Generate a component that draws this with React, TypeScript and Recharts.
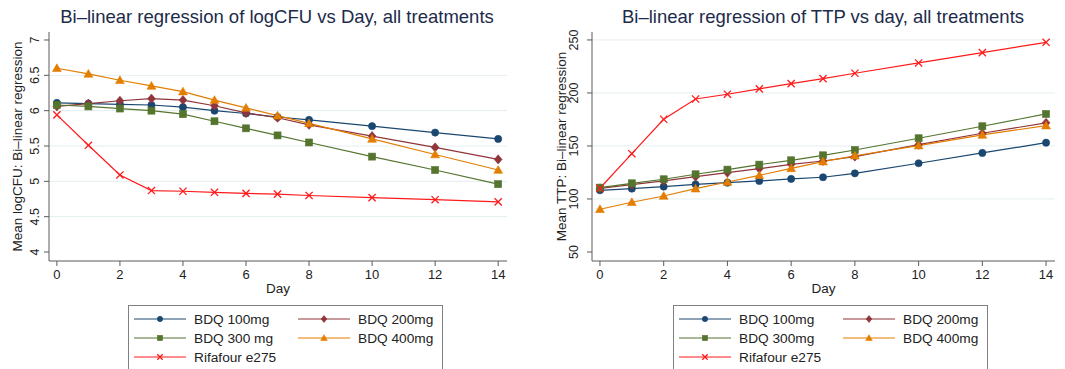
import React from 'react';
import { LineChart, Line, XAxis, YAxis, CartesianGrid } from 'recharts';

const FONT = '"Liberation Sans", Arial, Helvetica, sans-serif';

const DAYS = [0, 1, 2, 3, 4, 5, 6, 7, 8, 10, 12, 14];
const DAY_TICKS = [0, 2, 4, 6, 8, 10, 12, 14];

// logCFU panel
const CFU_100 = [6.11, 6.1, 6.09, 6.08, 6.05, 6.0, 5.96, 5.91, 5.87, 5.78, 5.69, 5.6];
const CFU_200 = [6.06, 6.1, 6.14, 6.17, 6.15, 6.07, 5.97, 5.9, 5.8, 5.64, 5.48, 5.31];
const CFU_300 = [6.08, 6.06, 6.03, 6.0, 5.95, 5.85, 5.75, 5.65, 5.55, 5.35, 5.16, 4.96];
const CFU_400 = [6.6, 6.52, 6.43, 6.35, 6.27, 6.15, 6.04, 5.93, 5.82, 5.6, 5.38, 5.16];
const CFU_RIF = [5.94, 5.51, 5.09, 4.87, 4.86, 4.845, 4.83, 4.82, 4.8, 4.77, 4.74, 4.71];
const CFU_TICKS = [4, 4.5, 5, 5.5, 6, 6.5, 7];
const CFU_GRID = [4.5, 5, 5.5, 6, 6.5];

// TTP panel
const TTP_100 = [108.2, 109.7, 111.6, 113.8, 115.4, 117, 118.9, 120.5, 124.2, 133.7, 143.4, 153.1];
const TTP_200 = [110, 113.5, 117, 121, 124.8, 128.6, 132.7, 135.8, 140, 151.2, 162, 171.8];
const TTP_300 = [110.7, 114.8, 118.6, 123.3, 127.7, 132.4, 136.5, 141.2, 146.2, 157.3, 168.6, 180.2];
const TTP_400 = [90.3, 96.9, 102.8, 109.7, 116, 122.3, 128.9, 135.2, 140.8, 150.3, 160.4, 169.2];
const TTP_RIF = [110.1, 142.7, 175.2, 194.3, 198.8, 203.8, 208.8, 213.5, 218.6, 228.3, 238, 247.8];
const TTP_TICKS = [50, 100, 150, 200, 250];
const TTP_GRID = [100, 150, 200, 250];

const SERIES = [
  { key: 'b100', color: '#1a476f', shape: 'circle' },
  { key: 'b200', color: '#90353b', shape: 'diamond' },
  { key: 'b300', color: '#55752f', shape: 'square' },
  { key: 'b400', color: '#e37e00', shape: 'triangle' },
  { key: 'rif', color: '#ff1a1a', shape: 'x' },
];

const CFU_LABELS = ['BDQ 100mg', 'BDQ 200mg', 'BDQ 300 mg', 'BDQ 400mg', 'Rifafour e275'];
const TTP_LABELS = ['BDQ 100mg', 'BDQ 200mg', 'BDQ 300mg', 'BDQ 400mg', 'Rifafour e275'];

const buildRows = (cols: number[][]) =>
  DAYS.map((day, i) => ({
    day,
    b100: cols[0][i],
    b200: cols[1][i],
    b300: cols[2][i],
    b400: cols[3][i],
    rif: cols[4][i],
  }));

const cfuData = buildRows([CFU_100, CFU_200, CFU_300, CFU_400, CFU_RIF]);
const ttpData = buildRows([TTP_100, TTP_200, TTP_300, TTP_400, TTP_RIF]);

const Marker = ({ cx, cy, shape, color, s = 1 }: any) => {
  if (cx == null || cy == null) return null;
  switch (shape) {
    case 'circle':
      return <circle cx={cx} cy={cy} r={3.6 * s} fill={color} stroke={color} strokeWidth={0.6} />;
    case 'diamond': {
      const d = 4.6 * s;
      return (
        <polygon
          points={`${cx},${cy - d} ${cx + d * 0.85},${cy} ${cx},${cy + d} ${cx - d * 0.85},${cy}`}
          fill={color}
          stroke={color}
          strokeWidth={0.6}
        />
      );
    }
    case 'square': {
      const h = 3.5 * s;
      return <rect x={cx - h} y={cy - h} width={h * 2} height={h * 2} fill={color} stroke={color} strokeWidth={0.6} />;
    }
    case 'triangle': {
      const t = 4.4 * s;
      return (
        <polygon
          points={`${cx},${cy - t} ${cx + t},${cy + t * 0.75} ${cx - t},${cy + t * 0.75}`}
          fill={color}
          stroke={color}
          strokeWidth={0.6}
        />
      );
    }
    default: {
      const h = 3.6 * s;
      return (
        <g stroke={color} strokeWidth={1.3}>
          <line x1={cx - h} y1={cy - h} x2={cx + h} y2={cy + h} />
          <line x1={cx - h} y1={cy + h} x2={cx + h} y2={cy - h} />
        </g>
      );
    }
  }
};

const YTick = ({ x, y, payload }: any) => (
  <text
    x={x}
    y={y}
    transform={`rotate(-90, ${x}, ${y})`}
    textAnchor="middle"
    fontSize={12.5}
    fontFamily={FONT}
    fill="#222"
  >
    {payload.value}
  </text>
);

const YTitle = ({ viewBox, value, at }: any) => {
  const cy = viewBox.y + viewBox.height / 2;
  return (
    <text
      x={at}
      y={cy}
      transform={`rotate(-90, ${at}, ${cy})`}
      textAnchor="middle"
      fontSize={13.5}
      fontFamily={FONT}
      fill="#222"
    >
      {value}
    </text>
  );
};

const Panel = ({ data, yDomain, yTicks, grid, yLabel, margin, yWidth, tickGap, labelAt }: any) => (
  <LineChart width={margin.w} height={369} data={data} margin={{ top: 32, right: margin.right, left: 8, bottom: 69 }}>
    <CartesianGrid vertical={false} horizontalValues={grid} stroke="#e4eef0" strokeWidth={1} />
    <XAxis
      dataKey="day"
      type="number"
      domain={[-0.25, 14.28]}
      ticks={DAY_TICKS}
      allowDataOverflow
      height={39}
      tickSize={5}
      tickMargin={4}
      stroke="#5a5a5a"
      tick={{ fill: '#222', fontSize: 13, fontFamily: FONT }}
      label={{ value: 'Day', position: 'insideBottom', offset: 7, fill: '#222', fontSize: 13.5, fontFamily: FONT }}
    />
    <YAxis
      type="number"
      domain={yDomain}
      ticks={yTicks}
      allowDataOverflow
      width={yWidth}
      tickSize={5}
      tickMargin={tickGap}
      stroke="#5a5a5a"
      tick={<YTick />}
      label={(p: any) => <YTitle {...p} value={yLabel} at={labelAt} />}
    />
    {SERIES.map((s) => (
      <Line
        key={s.key}
        dataKey={s.key}
        stroke={s.color}
        strokeWidth={1.2}
        isAnimationActive={false}
        dot={(p: any) => <Marker key={`${s.key}-${p.index}`} cx={p.cx} cy={p.cy} shape={s.shape} color={s.color} />}
        activeDot={false}
      />
    ))}
  </LineChart>
);

const LegendBox = ({ left, labels }: any) => (
  <div
    style={{
      position: 'absolute',
      left,
      top: 305,
      width: 315,
      height: 70,
      border: '1px solid #808080',
      background: '#fff',
      boxSizing: 'border-box',
    }}
  >
    <svg width={315} height={70} style={{ position: 'absolute', left: -1, top: -1 }}>
      {SERIES.map((s, i) => {
        const col = i % 2;
        const row = Math.floor(i / 2);
        const x0 = 6 + col * 164;
        const cy = 14 + row * 19;
        return (
          <g key={s.key}>
            <line x1={x0} y1={cy} x2={x0 + 52} y2={cy} stroke={s.color} strokeWidth={1.2} />
            <Marker cx={x0 + 26} cy={cy} shape={s.shape} color={s.color} s={0.75} />
            <text x={x0 + 60} y={cy + 4.8} fontSize={13.7} fontFamily={FONT} fill="#222">
              {labels[i]}
            </text>
          </g>
        );
      })}
    </svg>
  </div>
);

const titleStyle: React.CSSProperties = {
  position: 'absolute',
  top: 6,
  fontFamily: FONT,
  fontSize: 18.5,
  color: '#1c2b4a',
  whiteSpace: 'nowrap',
  transform: 'translateX(-50%)',
};

export default function App() {
  return (
    <div style={{ position: 'absolute', left: 0, top: 0, width: 1065, height: 369, background: '#fff', overflow: 'hidden' }}>
      <div style={{ position: 'absolute', left: 0, top: 0 }}>
        <Panel
          data={cfuData}
          yDomain={[3.873, 7.113]}
          yTicks={CFU_TICKS}
          grid={CFU_GRID}
          yLabel="Mean logCFU: Bi–linear regression"
          margin={{ w: 530, right: 23 }}
          yWidth={41}
          tickGap={5}
          labelAt={22}
        />
      </div>
      <div style={{ position: 'absolute', left: 530, top: 0 }}>
        <Panel
          data={ttpData}
          yDomain={[41.5, 257.5]}
          yTicks={TTP_TICKS}
          grid={TTP_GRID}
          yLabel="Mean TTP: Bi–linear regression"
          margin={{ w: 535, right: 10 }}
          yWidth={54}
          tickGap={9}
          labelAt={36}
        />
      </div>
      <div style={{ ...titleStyle, left: 277 }}>Bi–linear regression of logCFU vs Day, all treatments</div>
      <div style={{ ...titleStyle, left: 823 }}>Bi–linear regression of TTP vs day, all treatments</div>
      <LegendBox left={128} labels={CFU_LABELS} />
      <LegendBox left={673} labels={TTP_LABELS} />
    </div>
  );
}
